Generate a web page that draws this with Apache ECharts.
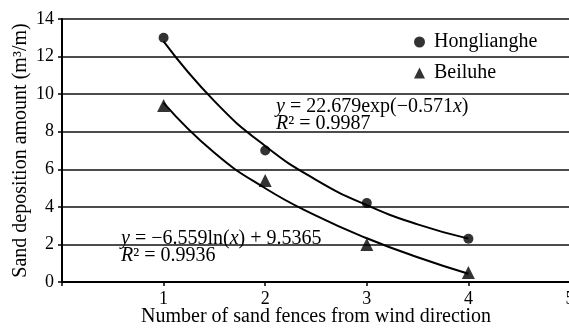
<!DOCTYPE html>
<html>
<head>
<meta charset="utf-8">
<script src="https://cdn.jsdelivr.net/npm/echarts@6/dist/echarts.min.js"></script>
<style>
html,body{margin:0;padding:0;background:#fff;}
#c{width:569px;height:333px;}
</style>
</head>
<body>
<div id="c"></div>
<script>
// Data
var fences = [1, 2, 3, 4];
var hongliangheValues = [13.0, 7.0, 4.2, 2.3];
var beiluheValues = [9.4, 5.4, 2.0, 0.5];
// Trend curves as drawn
var curveX = [1, 1.5, 2, 2.5, 3, 3.5, 4];
var expCurveY = [12.81, 9.63, 7.24, 5.44, 4.09, 3.07, 2.31];
var logCurveY = [9.54, 6.88, 4.99, 3.53, 2.33, 1.32, 0.44];
var yTicks = [0, 2, 4, 6, 8, 10, 12, 14];
var xTicks = [1, 2, 3, 4, 5];

function pairs(xs, ys) { return xs.map(function (x, i) { return [x, ys[i]]; }); }

var FONT = '"Liberation Serif", "Times New Roman", serif';
var chart = echarts.init(document.getElementById('c'), null, { renderer: 'canvas' });
chart.setOption({
  animation: false,
  backgroundColor: '#fff',
  textStyle: { fontFamily: FONT, color: '#000' },
  grid: { left: 62, right: -1, top: 19, bottom: 51, containLabel: false, outerBoundsMode: 'none' },
  xAxis: {
    type: 'value', min: 0, max: 5, interval: 1,
    name: 'Number of sand fences from wind direction',
    nameLocation: 'middle', nameGap: 25, nameMoveOverlap: false,
    nameTextStyle: { fontFamily: FONT, fontSize: 20, color: '#000' },
    axisLine: { show: true, lineStyle: { color: '#000', width: 2 } },
    axisTick: { show: true, length: 4, lineStyle: { color: '#000', width: 1.5 } },
    axisLabel: {
      fontFamily: FONT, fontSize: 18, color: '#000', margin: 8,
      showMaxLabel: true,
      formatter: function (v) { return v === 0 ? '' : String(v); }
    },
    splitLine: { show: false }
  },
  yAxis: {
    type: 'value', min: 0, max: 14, interval: 2,
    name: 'Sand deposition amount (m³/m)',
    nameLocation: 'middle', nameGap: 31, nameRotate: 90, nameMoveOverlap: false,
    nameTextStyle: { fontFamily: FONT, fontSize: 20, color: '#000' },
    axisLine: { show: true, lineStyle: { color: '#000', width: 2 } },
    axisTick: { show: true, length: 4, lineStyle: { color: '#000', width: 1.5 } },
    axisLabel: { fontFamily: FONT, fontSize: 18, color: '#000', margin: 8 },
    splitLine: { show: true, lineStyle: { color: '#111', width: 1.6 } }
  },
  legend: {
    orient: 'vertical', left: 409, top: 27, itemGap: 11,
    itemWidth: 11, itemHeight: 11,
    textStyle: { fontFamily: FONT, fontSize: 20, color: '#000', padding: [0, 0, 0, 4] },
    data: [
      { name: 'Honglianghe', icon: 'circle' },
      { name: 'Beiluhe', icon: 'triangle' }
    ]
  },
  series: [
    {
      name: 'expFit', type: 'line', smooth: true, showSymbol: false, symbol: 'none',
      data: pairs(curveX, expCurveY),
      lineStyle: { color: '#000', width: 2 }, z: 3, silent: true
    },
    {
      name: 'logFit', type: 'line', smooth: true, showSymbol: false, symbol: 'none',
      data: pairs(curveX, logCurveY),
      lineStyle: { color: '#000', width: 2 }, z: 3, silent: true
    },
    {
      name: 'Honglianghe', type: 'scatter', symbol: 'circle', symbolSize: 10,
      data: pairs(fences, hongliangheValues),
      itemStyle: { color: '#000' }, z: 5
    },
    {
      name: 'Beiluhe', type: 'scatter', symbol: 'triangle', symbolSize: 13,
      data: pairs(fences, beiluheValues),
      itemStyle: { color: '#000' }, z: 5
    }
  ],
  graphic: [
    {
      type: 'text', left: 276, top: 97, z: 10,
      style: {
        text: '{i|y} = 22.679exp(−0.571{i|x})\n{i|R}² = 0.9987',
        font: '20px "Liberation Serif"', fill: '#000', lineHeight: 17,
        rich: { i: { fontStyle: 'italic', fontFamily: FONT, fontSize: 20, lineHeight: 17 } }
      }
    },
    {
      type: 'text', left: 121, top: 229, z: 10,
      style: {
        text: '{i|y} = −6.559ln({i|x}) + 9.5365\n{i|R}² = 0.9936',
        font: '20px "Liberation Serif"', fill: '#000', lineHeight: 17,
        rich: { i: { fontStyle: 'italic', fontFamily: FONT, fontSize: 20, lineHeight: 17 } }
      }
    }
  ]
});
</script>
</body>
</html>
